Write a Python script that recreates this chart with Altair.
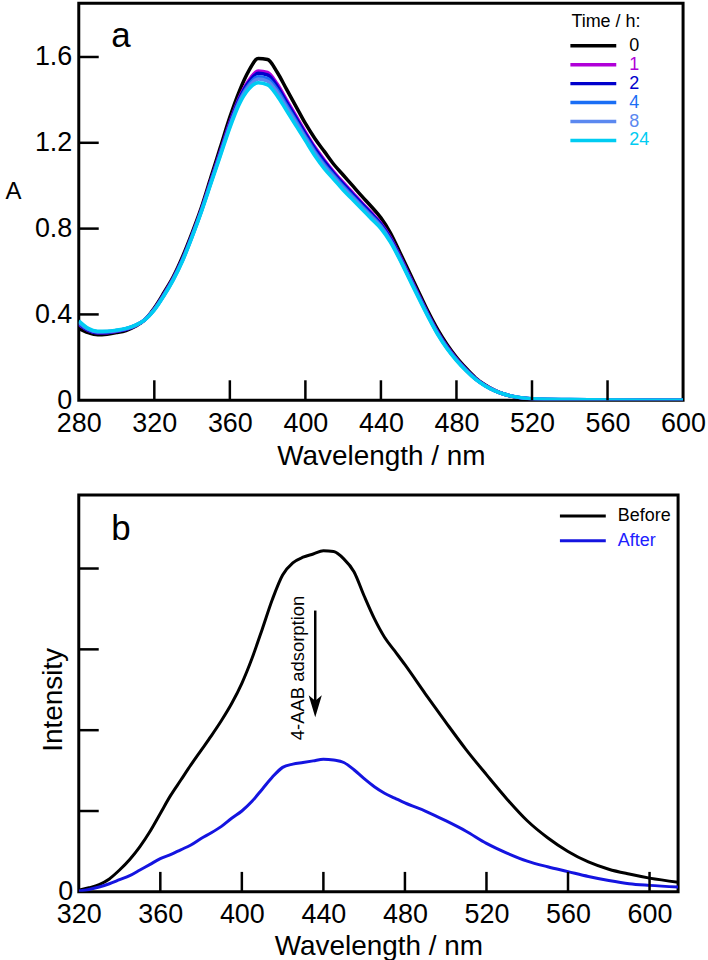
import altair as alt
import pandas as pd

FONT = "Liberation Sans"

# ---------------- Panel a: absorbance vs. time ----------------
wavelength_a = [280, 285, 290, 295, 300, 305, 310, 315, 320, 325, 330, 335, 340,
                345, 350, 355, 360, 365, 370, 375, 380, 385, 390, 395, 400, 405,
                410, 415, 420, 425, 430, 435, 440, 445, 450, 455, 460, 465, 470,
                475, 480, 485, 490, 495, 500, 505, 510, 515, 520, 540, 560, 580, 600]

abs_0h = [0.335, 0.315, 0.305, 0.308, 0.315, 0.325, 0.345, 0.375, 0.430, 0.500,
          0.575, 0.670, 0.780, 0.900, 1.040, 1.180, 1.320, 1.440, 1.535, 1.593,
          1.588, 1.530, 1.450, 1.370, 1.290, 1.220, 1.160, 1.100, 1.050, 1.000,
          0.950, 0.902, 0.850, 0.780, 0.690, 0.598, 0.505, 0.413, 0.330, 0.260,
          0.200, 0.150, 0.105, 0.072, 0.047, 0.029, 0.017, 0.009, 0.005, 0.001,
          0.000, 0.000, 0.000]
abs_1h = [0.353, 0.325, 0.314, 0.315, 0.321, 0.330, 0.348, 0.375, 0.425, 0.493,
          0.568, 0.660, 0.770, 0.890, 1.025, 1.160, 1.295, 1.410, 1.490, 1.535,
          1.528, 1.475, 1.400, 1.325, 1.250, 1.180, 1.120, 1.065, 1.015, 0.968,
          0.920, 0.874, 0.825, 0.759, 0.673, 0.582, 0.490, 0.401, 0.319, 0.250,
          0.193, 0.144, 0.102, 0.070, 0.046, 0.029, 0.018, 0.010, 0.006, 0.002,
          0.000, 0.000, 0.000]
abs_2h = [0.356, 0.327, 0.315, 0.316, 0.322, 0.331, 0.348, 0.375, 0.424, 0.491,
          0.566, 0.658, 0.768, 0.888, 1.022, 1.156, 1.290, 1.404, 1.482, 1.524,
          1.516, 1.464, 1.390, 1.316, 1.242, 1.172, 1.112, 1.058, 1.008, 0.961,
          0.914, 0.868, 0.820, 0.754, 0.669, 0.578, 0.487, 0.398, 0.316, 0.248,
          0.191, 0.143, 0.101, 0.070, 0.046, 0.029, 0.018, 0.010, 0.006, 0.002,
          0.001, 0.000, 0.000]
abs_4h = [0.361, 0.330, 0.318, 0.319, 0.324, 0.333, 0.349, 0.375, 0.423, 0.489,
          0.564, 0.655, 0.765, 0.885, 1.018, 1.150, 1.283, 1.395, 1.470, 1.508,
          1.499, 1.448, 1.375, 1.303, 1.230, 1.160, 1.100, 1.048, 0.998, 0.951,
          0.905, 0.860, 0.813, 0.748, 0.664, 0.573, 0.483, 0.394, 0.313, 0.245,
          0.189, 0.141, 0.100, 0.069, 0.046, 0.029, 0.018, 0.011, 0.007, 0.003,
          0.001, 0.000, 0.000]
abs_8h = [0.365, 0.332, 0.319, 0.320, 0.325, 0.334, 0.349, 0.375, 0.422, 0.487,
          0.562, 0.653, 0.763, 0.883, 1.015, 1.146, 1.278, 1.389, 1.462, 1.497,
          1.487, 1.437, 1.365, 1.294, 1.222, 1.152, 1.092, 1.041, 0.991, 0.945,
          0.899, 0.854, 0.808, 0.743, 0.660, 0.570, 0.480, 0.392, 0.310, 0.243,
          0.187, 0.140, 0.099, 0.069, 0.046, 0.029, 0.018, 0.011, 0.007, 0.003,
          0.001, 0.000, 0.000]
abs_24h = [0.370, 0.335, 0.322, 0.322, 0.327, 0.335, 0.350, 0.375, 0.420, 0.485,
           0.560, 0.650, 0.760, 0.880, 1.010, 1.140, 1.270, 1.380, 1.450, 1.480,
           1.470, 1.420, 1.350, 1.280, 1.210, 1.140, 1.080, 1.030, 0.980, 0.935,
           0.890, 0.845, 0.800, 0.737, 0.655, 0.565, 0.475, 0.388, 0.307, 0.240,
           0.185, 0.138, 0.098, 0.068, 0.045, 0.029, 0.018, 0.011, 0.007, 0.003,
           0.001, 0.000, 0.000]

time_labels = ["0", "1", "2", "4", "8", "24"]
time_colors = ["#000000", "#b000d8", "#0000cc", "#1a6ef5", "#5b88f0", "#00ccf2"]
time_series = [abs_0h, abs_1h, abs_2h, abs_4h, abs_8h, abs_24h]

a_x_labels = [280, 320, 360, 400, 440, 480, 520, 560, 600]
a_x_ticks = [320, 360, 400, 440, 480, 520, 560]
a_y_labels = [0, 0.4, 0.8, 1.2, 1.6]
a_y_ticks = [0.4, 0.8, 1.2, 1.6]

# ---------------- Panel b: emission before / after ----------------
wavelength_b = [320, 325, 330, 335, 340, 345, 350, 355, 360, 365, 370, 375, 380,
                385, 390, 395, 400, 405, 410, 415, 420, 425, 430, 435, 440, 445,
                450, 455, 460, 465, 470, 475, 480, 490, 500, 510, 520, 530, 540,
                550, 560, 570, 580, 590, 600, 614]
intensity_before = [0.02, 0.05, 0.09, 0.16, 0.27, 0.40, 0.56, 0.75, 0.97, 1.19,
                    1.38, 1.57, 1.75, 1.93, 2.12, 2.33, 2.58, 2.89, 3.25, 3.62,
                    3.92, 4.07, 4.14, 4.18, 4.22, 4.21, 4.12, 3.96, 3.66, 3.38,
                    3.15, 2.98, 2.81, 2.45, 2.10, 1.76, 1.45, 1.15, 0.88, 0.67,
                    0.50, 0.37, 0.28, 0.22, 0.17, 0.12]
intensity_after = [0.01, 0.03, 0.06, 0.10, 0.15, 0.20, 0.27, 0.34, 0.41, 0.46,
                   0.52, 0.58, 0.66, 0.73, 0.81, 0.91, 1.00, 1.12, 1.27, 1.42,
                   1.54, 1.58, 1.60, 1.62, 1.64, 1.63, 1.60, 1.51, 1.40, 1.30,
                   1.22, 1.16, 1.10, 1.00, 0.88, 0.75, 0.60, 0.48, 0.38, 0.31,
                   0.25, 0.19, 0.14, 0.10, 0.08, 0.06]

pl_labels = ["Before", "After"]
pl_colors = ["#000000", "#1414e0"]
pl_text_colors = ["#000000", "#2020ff"]

b_x_labels = [320, 360, 400, 440, 480, 520, 560, 600]
b_x_ticks = [360, 400, 440, 480, 520, 560, 600]
b_y_ticks = [1, 2, 3, 4]

# annotation arrow and its label (data coordinates)
arrow_label = ["4-AAB adsorption"]
arrow_wl = [436]
arrow_from = [3.48]
arrow_to = [2.36]
arrow_head = [2.295]
label_wl = [427.4]
label_y = [2.77]

# ---------------- layout constants ----------------
A_W, A_H = 606, 398
B_W, B_H = 601, 398
TICK_LEN = 20

scale_ax = alt.Scale(domain=[280, 600], nice=False, zero=False)
scale_ay = alt.Scale(domain=[0, 1.85], nice=False)
scale_bx = alt.Scale(domain=[320, 614], nice=False, zero=False)
scale_by = alt.Scale(domain=[0, 4.91], nice=False)

x_axis_common = dict(ticks=False, tickSize=0, domain=False, grid=False,
                     labelFontSize=27, labelPadding=10, labelFlush=False,
                     labelOverlap=False, titleFontSize=28)

axis_ax = alt.Axis(values=a_x_labels, title="Wavelength / nm", titlePadding=6,
                   **x_axis_common)
axis_ay = alt.Axis(values=a_y_labels, title="A", ticks=False, tickSize=0,
                   domain=False, grid=False, labelFontSize=27, labelPadding=7,
                   labelExpr="datum.value == 0 ? '0' : format(datum.value, '.1f')",
                   titleFontSize=24, titleAngle=0, titleX=-66, titleY=189,
                   titleAlign="center", titleBaseline="middle")
axis_bx = alt.Axis(values=b_x_labels, title="Wavelength / nm", titlePadding=5,
                   **x_axis_common)
axis_by = alt.Axis(values=[0], title="Intensity", ticks=False, tickSize=0,
                   domain=False, grid=False, labelFontSize=27, labelPadding=6,
                   titleFontSize=28, titleX=-25, titleY=205,
                   titleAlign="center", titleBaseline="middle")


def ax_x(field, scale, axis):
    return alt.X(field, type="quantitative", scale=scale, axis=axis)


def ax_y(field, scale, axis):
    return alt.Y(field, type="quantitative", scale=scale, axis=axis)


# ---------------- panel a ----------------
a_layers = []
for lab, col, vals in zip(time_labels, time_colors, time_series):
    df = pd.DataFrame({"wl": wavelength_a, "A": vals})
    a_layers.append(
        alt.Chart(df).mark_line(color=col, strokeWidth=3.5, interpolate="monotone",
                                clip=True)
        .encode(x=ax_x("wl", scale_ax, axis_ax), y=ax_y("A", scale_ay, axis_ay))
    )

a_layers.append(
    alt.Chart(pd.DataFrame({"wl": a_x_ticks})).mark_rule(color="black", strokeWidth=2.5)
    .encode(x=ax_x("wl", scale_ax, axis_ax), y=alt.value(A_H),
            y2=alt.value(A_H - TICK_LEN))
)
a_layers.append(
    alt.Chart(pd.DataFrame({"A": a_y_ticks})).mark_rule(color="black", strokeWidth=2.5)
    .encode(y=ax_y("A", scale_ay, axis_ay), x=alt.value(0), x2=alt.value(TICK_LEN))
)

# legend for panel a
a_layers.append(
    alt.Chart(pd.DataFrame({"t": ["Time / h:"]})).mark_text(
        align="left", baseline="middle", fontSize=18, color="black")
    .encode(x=alt.value(494), y=alt.value(19), text="t:N")
)
for i, (lab, col) in enumerate(zip(time_labels, time_colors)):
    yy = 42.5 + 19 * i
    d = pd.DataFrame({"t": [lab]})
    a_layers.append(
        alt.Chart(d).mark_rule(color=col, strokeWidth=3.5)
        .encode(x=alt.value(493), x2=alt.value(539), y=alt.value(yy))
    )
    a_layers.append(
        alt.Chart(d).mark_text(align="left", baseline="middle", fontSize=18,
                               color=col)
        .encode(x=alt.value(552), y=alt.value(yy), text="t:N")
    )

a_layers.append(
    alt.Chart(pd.DataFrame({"t": ["a"]})).mark_text(
        align="left", baseline="alphabetic", fontSize=35, color="black")
    .encode(x=alt.value(32.5), y=alt.value(43.5), text="t:N")
)

panel_a = alt.layer(*a_layers).properties(width=A_W, height=A_H)

# ---------------- panel b ----------------
b_layers = []
for lab, col, vals in zip(pl_labels, pl_colors, [intensity_before, intensity_after]):
    df = pd.DataFrame({"wl": wavelength_b, "I": vals})
    b_layers.append(
        alt.Chart(df).mark_line(color=col, strokeWidth=3, interpolate="monotone",
                                clip=True)
        .encode(x=ax_x("wl", scale_bx, axis_bx), y=ax_y("I", scale_by, axis_by))
    )

b_layers.append(
    alt.Chart(pd.DataFrame({"wl": b_x_ticks})).mark_rule(color="black", strokeWidth=2.5)
    .encode(x=ax_x("wl", scale_bx, axis_bx), y=alt.value(B_H),
            y2=alt.value(B_H - TICK_LEN))
)
b_layers.append(
    alt.Chart(pd.DataFrame({"I": b_y_ticks})).mark_rule(color="black", strokeWidth=2.5)
    .encode(y=ax_y("I", scale_by, axis_by), x=alt.value(0), x2=alt.value(TICK_LEN))
)

# arrow with rotated label
arrow_df = pd.DataFrame({"wl": arrow_wl, "I": arrow_from, "I2": arrow_to})
b_layers.append(
    alt.Chart(arrow_df).mark_rule(color="black", strokeWidth=2.5)
    .encode(x=ax_x("wl", scale_bx, axis_bx), y=ax_y("I", scale_by, axis_by),
            y2="I2:Q")
)
b_layers.append(
    alt.Chart(pd.DataFrame({"wl": arrow_wl, "I": arrow_head})).mark_point(
        shape="M-0.6,-1 L0,1 L0.6,-1 L0,-0.5 Z", filled=True, size=484,
        color="black", opacity=1, strokeWidth=0)
    .encode(x=ax_x("wl", scale_bx, axis_bx), y=ax_y("I", scale_by, axis_by))
)
b_layers.append(
    alt.Chart(pd.DataFrame({"wl": label_wl, "I": label_y, "t": arrow_label}))
    .mark_text(angle=270, align="center", baseline="middle", fontSize=18.5,
               color="black")
    .encode(x=ax_x("wl", scale_bx, axis_bx), y=ax_y("I", scale_by, axis_by),
            text="t:N")
)

# legend for panel b
for i, (lab, col, tcol) in enumerate(zip(pl_labels, pl_colors, pl_text_colors)):
    yy = 21 + 25 * i
    d = pd.DataFrame({"t": [lab]})
    b_layers.append(
        alt.Chart(d).mark_rule(color=col, strokeWidth=3)
        .encode(x=alt.value(482.5), x2=alt.value(528.5), y=alt.value(yy))
    )
    b_layers.append(
        alt.Chart(d).mark_text(align="left", baseline="middle", fontSize=18, color=tcol)
        .encode(x=alt.value(540.5), y=alt.value(yy), text="t:N")
    )

b_layers.append(
    alt.Chart(pd.DataFrame({"t": ["b"]})).mark_text(
        align="left", baseline="alphabetic", fontSize=35, color="black")
    .encode(x=alt.value(32.5), y=alt.value(44.7), text="t:N")
)

panel_b = alt.layer(*b_layers).properties(width=B_W, height=B_H)

chart = (
    alt.vconcat(panel_a, panel_b, spacing=21)
    .properties(padding={"left": 3, "top": 0, "right": 0, "bottom": 0},
                background="white")
    .configure(font=FONT)
    .configure_view(stroke="black", strokeWidth=3)
    .configure_axis(labelFont=FONT, titleFont=FONT, labelColor="black",
                    titleColor="black", titleFontWeight="normal")
    .configure_text(font=FONT)
)

chart.save("out.html", embed_options={"renderer": "svg", "actions": False})
